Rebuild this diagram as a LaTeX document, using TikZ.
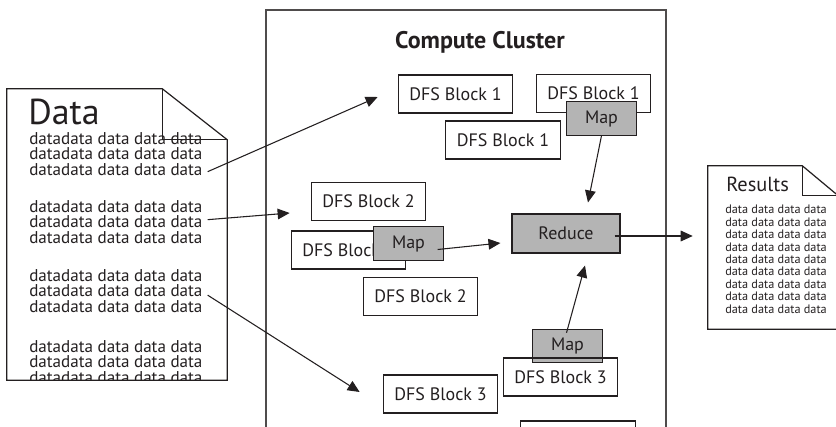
\documentclass[tikz,border=0pt]{standalone}
\usepackage{fontspec}
\setmainfont{PT Sans}
\usepackage{xcolor}
\definecolor{ink}{RGB}{35,31,32}
\definecolor{jobgray}{RGB}{180,180,180}
\usepackage{tikz}
\usetikzlibrary{arrows.meta, positioning, calc}
\tikzstyle{dfs} = [draw=ink, line width=0.8pt, rectangle, fill=white, inner sep=0pt, minimum width=86pt, minimum height=28.5pt, font=\fontsize{13.5}{15}\selectfont]
\tikzstyle{job} = [dfs, fill=jobgray, minimum width=52pt, minimum height=25pt]
\tikzstyle{doc} = [rectangle, inner sep=0pt]
\tikzstyle{docline} = [draw=ink, line width=0.9pt]
\tikzstyle{filler} = [inner sep=0pt, align=left, font=\fontsize{12.8}{11.6}\selectfont]
\tikzstyle{arr} = [draw=ink, line width=0.8pt, -{Triangle[length=9pt, width=8pt]}]

\begin{document}
\begin{tikzpicture}[x=0.75pt, y=-0.75pt, text=ink]
    \clip (0,0) rectangle (836,426);

    % cluster frame, open at the bottom
    \draw[ink!80, line width=1pt] (266,440) |- (666,10) -- (666,440);
    \node[font=\bfseries\fontsize{18}{20}\selectfont] (cluster) at (480,42) {Compute Cluster};

    % dfs blocks
    \node[dfs] (b1a) at (455.5,94) {DFS Block 1};
    \node[dfs] (b1b) at (593.5,93.5) {DFS Block 1};
    \node[dfs] (b1c) at (503,140) {DFS Block 1};
    \node[dfs] (b2a) at (368.5,201.5) {DFS Block 2};
    \node[dfs] (b2b) at (348.5,250) {DFS Block 2};
    \node[dfs] (b2c) at (420.5,296.5) {DFS Block 2};
    \node[dfs] (b3a) at (440.5,394) {DFS Block 3};
    \node[dfs] (b3c) at (578,440) {};

    % map and reduce
    \node[job] (map1) at (601.5,118.5) {Map};
    \node[job] (map2) at (408.5,243.5) {Map};
    \node[job] (map3) at (567.5,346) {Map};
    \node[dfs, fill=none] (b3b) at (560.5,377) {DFS Block 3};
    \node[job, minimum width=81pt, minimum height=29.25pt] (reduce) at (566,233.5) {Reduce};

    % input file
    \node[doc, minimum width=165pt, minimum height=218.25pt] (datadoc) at (117,234.5) {};
    \draw[docline] (datadoc.north west) -- ($(datadoc.north east)+(-65,0)$)
        -- ($(datadoc.north east)+(0,51)$) -- (datadoc.south east)
        -- (datadoc.south west) -- cycle;
    \begin{scope}
        \clip (datadoc.north west) rectangle (datadoc.south east);
        \node[anchor=base west, inner sep=0pt, font=\fontsize{27}{29}\selectfont] (datatitle) at (28,124) {Data};
        % base anchor sits on the last line
        \node[filler, anchor=base west] (d1) at (29,175)
        {datadata data data data\\datadata data data data\\datadata data data data};
        \node[filler, anchor=base west] (d2) at (29,243)
        {datadata data data data\\datadata data data data\\datadata data data data};
        \node[filler, anchor=base west] (d3) at (29,312)
        {datadata data data data\\datadata data data data\\datadata data data data};
        \node[filler, anchor=base west] (d4) at (29,383)
        {datadata data data data\\datadata data data data\\datadata data data data};
    \end{scope}
    \draw[docline] ($(datadoc.north east)+(-65,0)$) |- ($(datadoc.north east)+(0,51)$);

    % output file
    \node[doc, minimum width=97.5pt, minimum height=122.25pt] (resdoc) at (773,247.5) {};
    \draw[docline] (resdoc.north west) -- ($(resdoc.north east)+(-36,0)$)
        -- ($(resdoc.north east)+(0,30)$) -- (resdoc.south east)
        -- (resdoc.south west) -- cycle;
    \draw[docline] ($(resdoc.north east)+(-36,0)$) |- ($(resdoc.north east)+(0,30)$);
    \node[anchor=base west, inner sep=0pt, font=\fontsize{15.3}{17}\selectfont] (restitle) at (726,191) {Results};
    \node[anchor=base west, inner sep=0pt, align=left, font=\fontsize{9.2}{9.3}\selectfont] (res) at (725,313)
    {data data data data\\data data data data\\data data data data\\data data data data\\data data data data\\%
     data data data data\\data data data data\\data data data data\\data data data data};

    % arrows
    \draw[arr] ($(d1.east)+(5,18)$) -- ($(b1a.west)+(-20,3)$);
    \draw[arr] ($(d2.east)+(5,-2)$) -- ($(b2a.west)+(-21,11.5)$);
    \draw[arr] ($(d3.east)+(5,4.5)$) -- ($(b3a.west)+(-23,-2)$);
    \draw[arr] (map1.south) -- ($(reduce.north)+(22,-11)$);
    \draw[arr] ($(map2.east)+(-6,6)$) -- ($(reduce.west)+(-11,9.5)$);
    \draw[arr] ($(map3.north)+(-1,4)$) -- ($(reduce.south)+(19,12)$);
    \draw[arr] ($(reduce.east)+(-6,2.5)$) -- ($(resdoc.west)+(-15,-11.5)$);
\end{tikzpicture}
\end{document}
